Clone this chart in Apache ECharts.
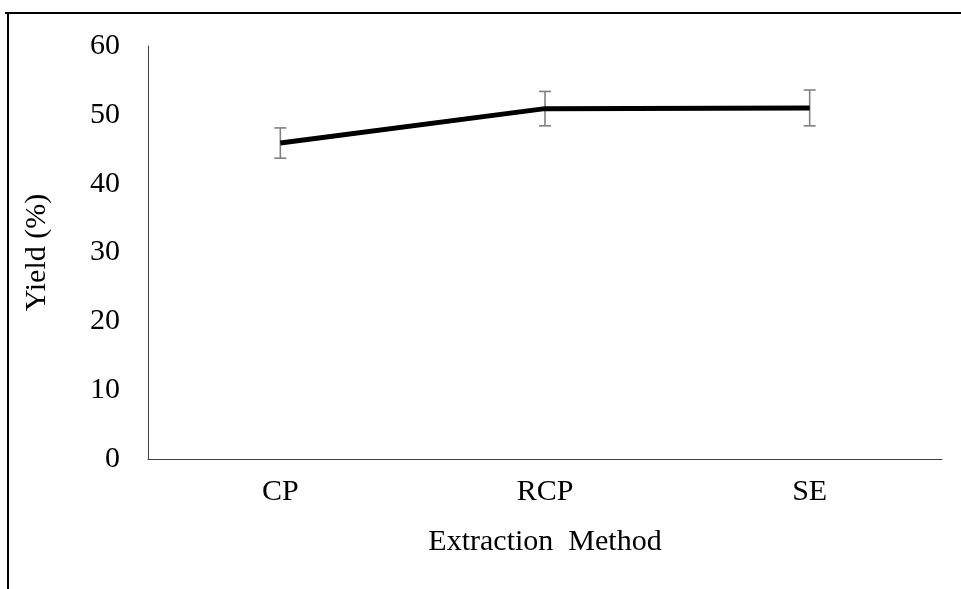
<!DOCTYPE html>
<html>
<head>
<meta charset="utf-8">
<script src="https://cdn.jsdelivr.net/npm/echarts@6/dist/echarts.min.js"></script>
<style>
  html, body { margin: 0; padding: 0; background: #fff; }
  #chart { width: 961px; height: 589px; }
</style>
</head>
<body>
<div id="chart"></div>
<script>
// Extraction yield by method, mean with standard deviation
const methods = ['CP', 'RCP', 'SE'];
const yieldMean = [45.9, 50.9, 51.0];
const yieldSd = [2.2, 2.5, 2.6];
const yTicks = [0, 10, 20, 30, 40, 50, 60];

const serif = '"Liberation Serif", "DejaVu Serif", serif';
const textSize = 30;

const chart = echarts.init(document.getElementById('chart'), null, { renderer: 'canvas' });

const errorData = methods.map((m, i) => [i, yieldMean[i] - yieldSd[i], yieldMean[i] + yieldSd[i]]);

chart.setOption({
  animation: false,
  backgroundColor: '#ffffff',
  graphic: [
    // frame around the figure (top and left edges)
    { type: 'line', shape: { x1: 5, y1: 13, x2: 961, y2: 13 }, style: { stroke: '#000', lineWidth: 2 } },
    { type: 'line', shape: { x1: 8, y1: 12, x2: 8, y2: 589 }, style: { stroke: '#000', lineWidth: 2 } }
  ],
  grid: { left: 148, right: 19, top: 46, bottom: 130 },
  xAxis: {
    type: 'category',
    data: methods,
    boundaryGap: true,
    axisLine: { lineStyle: { color: '#404040', width: 1 } },
    axisTick: { show: false },
    axisLabel: { color: '#000', fontFamily: serif, fontSize: textSize, margin: 18 },
    name: 'Extraction  Method',
    nameLocation: 'middle',
    nameGap: 68,
    nameTextStyle: { color: '#000', fontFamily: serif, fontSize: textSize }
  },
  yAxis: {
    type: 'value',
    min: yTicks[0],
    max: yTicks[yTicks.length - 1],
    interval: 10,
    axisLine: { show: true, lineStyle: { color: '#404040', width: 1 } },
    axisTick: { show: false },
    splitLine: { show: false },
    axisLabel: { color: '#000', fontFamily: serif, fontSize: textSize, margin: 28 },
    name: 'Yield (%)',
    nameLocation: 'middle',
    nameGap: 96,
    nameRotate: 90,
    nameTextStyle: { color: '#000', fontFamily: serif, fontSize: textSize }
  },
  series: [
    {
      type: 'line',
      data: yieldMean,
      symbol: 'none',
      lineStyle: { color: '#000', width: 5 },
      z: 3
    },
    {
      type: 'custom',
      data: errorData,
      z: 2,
      renderItem: function (params, api) {
        const x = api.value(0);
        const lo = api.coord([x, api.value(1)]);
        const hi = api.coord([x, api.value(2)]);
        const cap = 6;
        const style = { stroke: '#808080', lineWidth: 1.6 };
        return {
          type: 'group',
          children: [
            { type: 'line', shape: { x1: hi[0], y1: hi[1], x2: lo[0], y2: lo[1] }, style: style },
            { type: 'line', shape: { x1: hi[0] - cap, y1: hi[1], x2: hi[0] + cap, y2: hi[1] }, style: style },
            { type: 'line', shape: { x1: lo[0] - cap, y1: lo[1], x2: lo[0] + cap, y2: lo[1] }, style: style }
          ]
        };
      }
    }
  ]
});
</script>
</body>
</html>
